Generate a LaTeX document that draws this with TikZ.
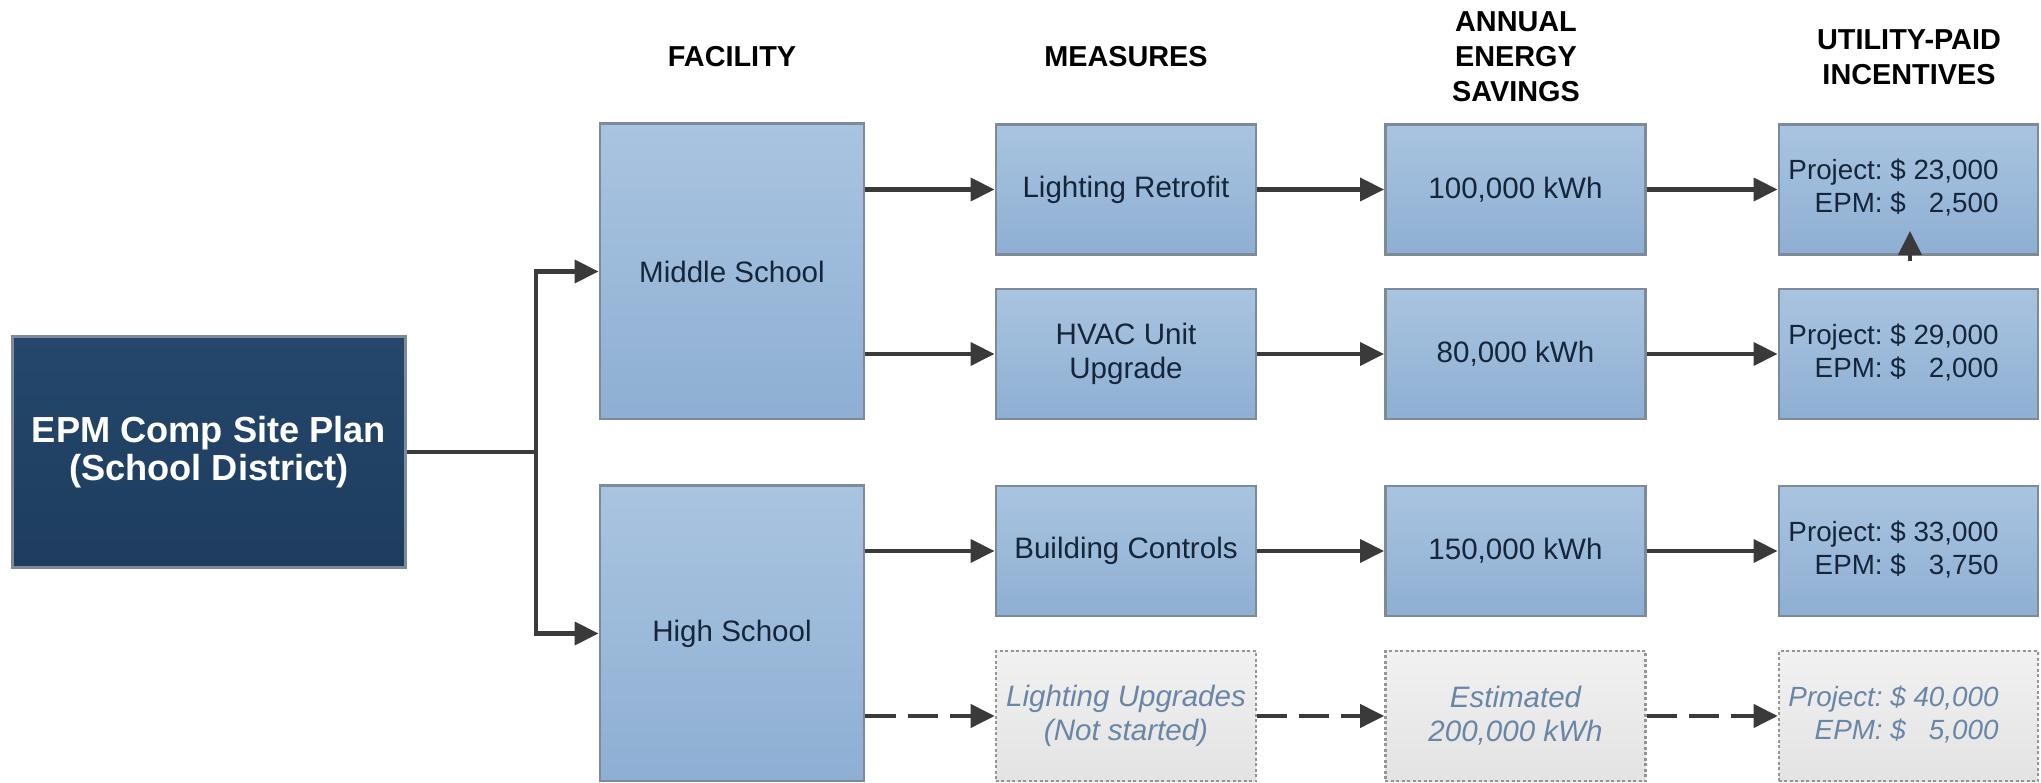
\documentclass[tikz,border=0pt]{standalone}
\usepackage{fontspec}
\setmainfont{Liberation Sans}
\usetikzlibrary{arrows.meta}
\definecolor{navy}{HTML}{24476B}
\definecolor{navyb}{HTML}{1E3D5E}
\definecolor{boxtop}{HTML}{A9C4E0}
\definecolor{boxbot}{HTML}{8EAFD3}
\definecolor{boxline}{HTML}{7D8B99}
\definecolor{boxtext}{HTML}{15263A}
\definecolor{arrowc}{HTML}{3A3A3A}
\definecolor{pendtop}{HTML}{F1F1F1}
\definecolor{pendbot}{HTML}{E3E3E3}
\definecolor{pendline}{HTML}{959595}
\definecolor{pendtext}{HTML}{6A86A6}
\tikzset{
  mainbox/.style={draw=boxline, line width=0.8pt, top color=navy, bottom color=navyb,
    text=white, font=\bfseries\fontsize{10.3}{10.8}\selectfont, align=center,
    minimum width=3.92cm, minimum height=2.31cm, inner sep=0pt},
  bluebox/.style={draw=boxline, line width=0.8pt, top color=boxtop, bottom color=boxbot,
    text=boxtext, font=\fontsize{8.4}{9.6}\selectfont, align=center,
    minimum width=2.6cm, minimum height=1.3cm, inner sep=0pt},
  pendbox/.style={draw=pendline, line width=0.7pt, dash pattern=on 0.03cm off 0.025cm,
    top color=pendtop, bottom color=pendbot,
    text=pendtext, font=\itshape\fontsize{8.4}{9.6}\selectfont, align=center,
    minimum width=2.6cm, minimum height=1.3cm, inner sep=0pt},
  tallbox/.style={bluebox, minimum width=2.64cm, minimum height=2.95cm},
  heading/.style={font=\bfseries\fontsize{8.2}{10}\selectfont, align=center, text=black, inner sep=0pt},
  conn/.style={draw=arrowc, line width=1.15pt},
  arr/.style={conn, -{Triangle[length=0.24cm,width=0.23cm]}},
  darr/.style={arr, dash pattern=on 0.3cm off 0.12cm},
}
\newcommand{\incent}[2]{\fontsize{7.9}{9.4}\selectfont\begin{tabular}{@{}r@{\ }c@{\ }r@{}}Project:&\$&#1\\EPM:&\$&#2\end{tabular}\hspace*{0.3cm}}
\begin{document}
\begin{tikzpicture}[x=0.01cm,y=-0.01cm]
\useasboundingbox (0,0) rectangle (2041,783);
% headings
\node[heading] (h1) at (732,57) {FACILITY};
\node[heading] (h2) at (1126,57) {MEASURES};
\node[heading] (h3) at (1516,57) {ANNUAL\\ENERGY\\SAVINGS};
\node[heading] (h4) at (1909,57) {UTILITY-PAID\\INCENTIVES};
% main
\node[mainbox] (main) at (209,452) {EPM Comp Site Plan\\(School District)};
% facilities
\node[tallbox] (ms) at (732,271.5) {Middle School};
\node[tallbox] (hs) at (732,633.5) {High School};
% measures
\node[bluebox] (m1) at (1126,189.5) {Lighting Retrofit};
\node[bluebox] (m2) at (1126,354) {HVAC Unit\\Upgrade};
\node[bluebox] (m3) at (1126,551) {Building Controls};
\node[pendbox] (m4) at (1126,716) {Lighting Upgrades\\(Not started)};
% savings
\node[bluebox] (e1) at (1515.5,189.5) {100,000 kWh};
\node[bluebox] (e2) at (1515.5,354) {80,000 kWh};
\node[bluebox] (e3) at (1515.5,551) {150,000 kWh};
\node[pendbox] (e4) at (1515.5,716) {Estimated\\200,000 kWh};
% incentives
\node[bluebox, minimum width=2.59cm] (i1) at (1908.5,189.5) {\incent{23,000}{2,500}};
\node[bluebox, minimum width=2.59cm] (i2) at (1908.5,354) {\incent{29,000}{2,000}};
\node[bluebox, minimum width=2.59cm] (i3) at (1908.5,551) {\incent{33,000}{3,750}};
\node[pendbox, minimum width=2.59cm] (i4) at (1908.5,716) {\incent{40,000}{5,000}};
% connectors
\coordinate (j) at (536,452);
\draw[conn] (main.east) -- (j);
\draw[arr] (j) |- (ms.west);
\draw[arr] (j) |- (hs.west);
\draw[arr] (ms.east |- m1.west) -- (m1.west);
\draw[arr] (ms.east |- m2.west) -- (m2.west);
\draw[arr] (hs.east |- m3.west) -- (m3.west);
\draw[darr] (hs.east |- m4.west) -- (m4.west);
\draw[arr] (m1) -- (e1);
\draw[arr] (m2) -- (e2);
\draw[arr] (m3) -- (e3);
\draw[darr] (m4) -- (e4);
\draw[arr] (e1) -- (i1);
\draw[arr] (e2) -- (i2);
\draw[arr] (e3) -- (i3);
\draw[darr] (e4) -- (i4);
% small upward arrow
\coordinate (ua) at (1910,261);
\coordinate (ub) at (1910,231);
\draw[arr] (ua) -- (ub);
\end{tikzpicture}
\end{document}
